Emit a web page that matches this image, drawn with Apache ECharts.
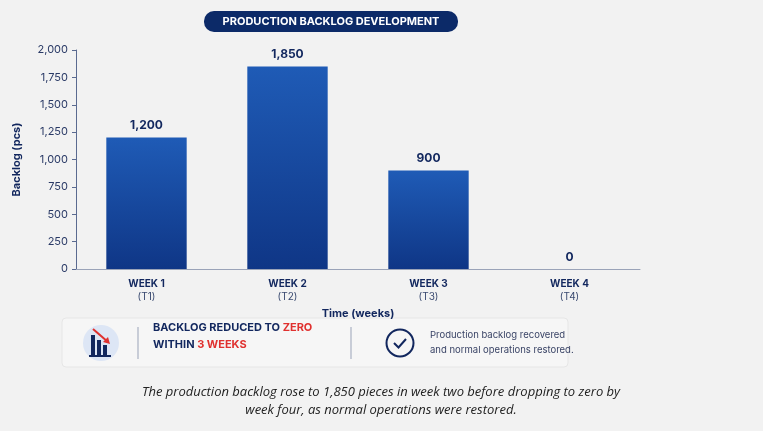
<!DOCTYPE html>
<html>
<head>
<meta charset="utf-8">
<script src="https://cdn.jsdelivr.net/npm/echarts@6/dist/echarts.min.js"></script>
<style>
  html, body { margin: 0; padding: 0; background: #f2f2f2; }
  #chart { width: 763px; height: 431px; }
</style>
</head>
<body>
<div id="chart"></div>
<script>
var weeks = ["WEEK 1\n(T1)", "WEEK 2\n(T2)", "WEEK 3\n(T3)", "WEEK 4\n(T4)"];
var backlog = [1200, 1850, 900, 0];
var yTicks = { min: 0, max: 2000, interval: 250 };

var navy = "#12275e";
var chart = echarts.init(document.getElementById("chart"));

var option = {
    backgroundColor: "#f2f2f2",
    animation: false,
    grid: { left: 76, right: 123, top: 50, bottom: 162 },
    xAxis: {
        type: "category",
        data: weeks,
        name: "Time (weeks)",
        nameLocation: "middle",
        nameGap: 34,
        nameTextStyle: { color: navy, fontSize: 11, fontWeight: "bold", fontFamily: "Inter" },
        axisLine: { lineStyle: { color: "#9aa3b8" } },
        axisTick: { show: false },
        axisLabel: {
            color: navy, fontSize: 10, fontFamily: "Inter", lineHeight: 13,
            formatter: function (v) {
                var p = v.split("\n");
                return "{a|" + p[0] + "}\n{b|" + p[1] + "}";
            },
            rich: {
                a: { fontWeight: "bold", fontSize: 10, color: navy, fontFamily: "Inter" },
                b: { fontSize: 10, color: "#3a4a70", fontFamily: "Inter" }
            }
        }
    },
    yAxis: {
        type: "value",
        min: yTicks.min, max: yTicks.max, interval: yTicks.interval,
        name: "Backlog (pcs)",
        nameLocation: "middle",
        nameGap: 54,
        nameTextStyle: { color: navy, fontSize: 11, fontWeight: "bold", fontFamily: "Inter" },
        axisLine: { show: true, lineStyle: { color: "#5a6a90" } },
        axisTick: { show: true, length: 4, lineStyle: { color: "#5a6a90" } },
        splitLine: { show: false },
        axisLabel: {
            color: "#2a3a66", fontSize: 11, fontFamily: "Inter",
            formatter: function (v) { return v.toLocaleString("en-US"); }
        }
    },
    series: [{
        type: "bar",
        data: backlog,
        barWidth: "57%",
        itemStyle: {
            color: new echarts.graphic.LinearGradient(0, 0, 0, 1, [
                { offset: 0, color: "#1f5bb6" },
                { offset: 1, color: "#0f3686" }
            ])
        },
        label: {
            show: true, position: "top", distance: 6,
            color: navy, fontSize: 12, fontWeight: "bold", fontFamily: "Inter",
            formatter: function (p) { return p.value.toLocaleString("en-US"); }
        }
    }],
    graphic: [
        { type: "rect", shape: { x: 204, y: 11, width: 254, height: 21, r: 10 },
          style: { fill: "#0c2a68" } },
        { type: "text", x: 331, y: 21.5,
          style: { text: "PRODUCTION BACKLOG DEVELOPMENT", fill: "#fff", fontSize: 11,
                   fontWeight: "bold", fontFamily: "Inter", align: "center", verticalAlign: "middle" } },
        { type: "rect", shape: { x: 62, y: 318, width: 506, height: 49, r: 4 },
          style: { fill: "#f6f6f6", stroke: "#e6e6e6", lineWidth: 1 } },
        { type: "circle", shape: { cx: 101, cy: 343, r: 18 }, style: { fill: "#dde6f5" } },
        { type: "rect", shape: { x: 91, y: 335, width: 4, height: 20 }, style: { fill: "#12275e" } },
        { type: "rect", shape: { x: 97, y: 340, width: 4, height: 15 }, style: { fill: "#12275e" } },
        { type: "rect", shape: { x: 103, y: 345, width: 4, height: 10 }, style: { fill: "#12275e" } },
        { type: "rect", shape: { x: 89, y: 355, width: 22, height: 2 }, style: { fill: "#12275e" } },
        { type: "line", shape: { x1: 93, y1: 329, x2: 108, y2: 342 }, style: { stroke: "#e0312f", lineWidth: 2 } },
        { type: "polygon", shape: { points: [[110, 344], [103, 342], [108, 337]] }, style: { fill: "#e0312f" } },
        { type: "line", shape: { x1: 138, y1: 327, x2: 138, y2: 359 }, style: { stroke: "#9aa3b8", lineWidth: 1 } },
        { type: "text", x: 153, y: 336,
          style: { text: "{n|BACKLOG REDUCED TO }{r|ZERO}\n{n|WITHIN }{r|3 WEEKS}", lineHeight: 17,
                   verticalAlign: "middle",
                   rich: {
                       n: { fill: "#12275e", fontSize: 11, fontWeight: "bold", fontFamily: "Inter" },
                       r: { fill: "#e0312f", fontSize: 11, fontWeight: "bold", fontFamily: "Inter" }
                   } } },
        { type: "line", shape: { x1: 351, y1: 327, x2: 351, y2: 359 }, style: { stroke: "#9aa3b8", lineWidth: 1 } },
        { type: "circle", shape: { cx: 400, cy: 343, r: 13.5 }, style: { fill: "none", stroke: "#12275e", lineWidth: 2 } },
        { type: "polyline", shape: { points: [[394, 343], [398.5, 347.5], [406, 339]] },
          style: { fill: "none", stroke: "#12275e", lineWidth: 2 } },
        { type: "text", x: 430, y: 343,
          style: { text: "Production backlog recovered\nand normal operations restored.", lineHeight: 15,
                   fill: "#3a4466", fontSize: 9.5, fontFamily: "Inter", verticalAlign: "middle" } },
        { type: "text", x: 381, y: 401,
          style: { text: "The production backlog rose to 1,850 pieces in week two before dropping to zero by\nweek four, as normal operations were restored.",
                   lineHeight: 18, fill: "#222", fontSize: 13, fontStyle: "italic", fontFamily: "Open Sans",
                   align: "center", verticalAlign: "middle" } }
    ]
};

chart.setOption(option);
</script>
</body>
</html>
